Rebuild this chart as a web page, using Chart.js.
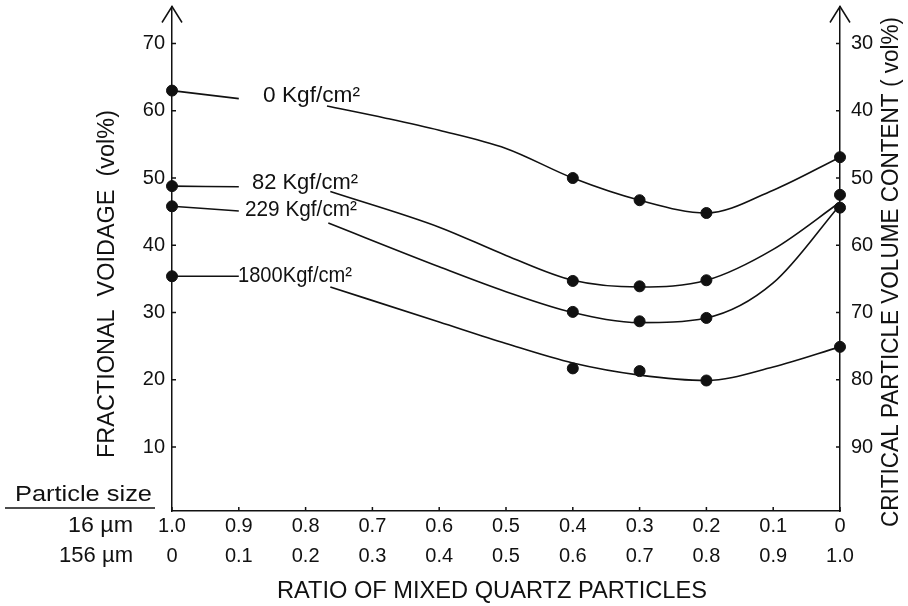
<!DOCTYPE html>
<html>
<head>
<meta charset="utf-8">
<script src="https://cdn.jsdelivr.net/npm/chart.js@4.4.0/dist/chart.umd.min.js"></script>
<style>
body { margin: 0; background: #fff; }
#wrap { width: 908px; height: 606px; }
</style>
</head>
<body>
<div id="wrap"><canvas id="chart"></canvas></div>
<script>
// x = ratio of 16 um particles (axis runs 1.0 -> 0), y = fractional voidage (vol%)
const ratio16Ticks = [1.0, 0.9, 0.8, 0.7, 0.6, 0.5, 0.4, 0.3, 0.2, 0.1, 0];
const label16 = ['1.0', '0.9', '0.8', '0.7', '0.6', '0.5', '0.4', '0.3', '0.2', '0.1', '0'];
const label156 = ['0', '0.1', '0.2', '0.3', '0.4', '0.5', '0.6', '0.7', '0.8', '0.9', '1.0'];
const voidTicks = [10, 20, 30, 40, 50, 60, 70];

// measured points
const dotX = [1.0, 0.4, 0.3, 0.2, 0];
const dots0 = [63.0, 50.0, 46.7, 44.8, 53.1];
const dots82 = [48.8, 34.7, 33.9, 34.8, 47.5];
const dots229 = [45.8, 30.1, 28.7, 29.2, 45.6];
const dots1800 = [35.4, 21.7, 21.3, 19.9, 24.9];

// hand drawn curves (null = gap where the label sits)
const curve0X = [1.0, 0.9, 0.84, 0.768, 0.68, 0.6, 0.5, 0.4, 0.3, 0.2, 0.1, 0];
const curve0Y = [63.0, 61.8, null, 60.7, 58.9, 57.1, 54.4, 50.0, 46.7, 44.8, 48.2, 53.1];
const curve82X = [1.0, 0.9, 0.84, 0.763, 0.6, 0.5, 0.4, 0.3, 0.2, 0.1, 0];
const curve82Y = [48.8, 48.7, null, 48.0, 42.7, 38.5, 34.8, 33.8, 34.8, 39.4, 46.4];
const curve229X = [1.0, 0.9, 0.84, 0.766, 0.6, 0.5, 0.4, 0.3, 0.2, 0.1, 0];
const curve229Y = [45.8, 45.1, null, 43.3, 36.8, 33.1, 30.0, 28.5, 29.2, 34.4, 46.0];
const curve1800X = [1.0, 0.9, 0.84, 0.763, 0.6, 0.5, 0.4, 0.3, 0.2, 0.1, 0];
const curve1800Y = [35.4, 35.4, null, 33.8, 28.6, 25.4, 22.5, 20.7, 19.9, 21.9, 24.9];

const ink = '#111';
const fam = '"Liberation Sans", Arial, sans-serif';

function pts(xs, ys) {
    return xs.map((x, i) => ({ x: x, y: ys[i] }));
}
function curve(xs, ys) {
    return {
        data: pts(xs, ys),
        showLine: true,
        borderColor: ink,
        borderWidth: 1.6,
        pointRadius: 0,
        cubicInterpolationMode: 'monotone',
        spanGaps: false,
        clip: false
    };
}
function dots(ys) {
    return {
        data: pts(dotX, ys),
        pointRadius: 5.5,
        pointBackgroundColor: ink,
        pointBorderColor: ink,
        showLine: false,
        clip: false
    };
}

// draw text squeezed/stretched to a target width
function drawFit(ctx, text, x, y, w, size, align, rot) {
    ctx.save();
    ctx.translate(x, y);
    if (rot) ctx.rotate(rot);
    ctx.font = size + 'px ' + fam;
    const m = ctx.measureText(text).width;
    ctx.scale(w / m, 1);
    ctx.textAlign = align || 'center';
    ctx.textBaseline = 'middle';
    ctx.fillText(text, 0, 0);
    ctx.restore();
}

const decor = {
    id: 'decor',
    afterDraw(chart) {
        const { ctx, chartArea: a, scales: { x, y } } = chart;
        ctx.save();
        ctx.strokeStyle = ink;
        ctx.fillStyle = ink;
        ctx.lineWidth = 1.5;
        // arrow heads
        [a.left, a.right].forEach(px => {
            ctx.beginPath();
            ctx.moveTo(px - 10, a.top + 16);
            ctx.lineTo(px, a.top);
            ctx.lineTo(px + 10, a.top + 16);
            ctx.stroke();
        });
        // inward tick marks
        ctx.beginPath();
        voidTicks.forEach(v => {
            const py = y.getPixelForValue(v);
            ctx.moveTo(a.left, py); ctx.lineTo(a.left + 4, py);
            ctx.moveTo(a.right, py); ctx.lineTo(a.right - 4, py);
        });
        ratio16Ticks.forEach(r => {
            const px = x.getPixelForValue(r);
            ctx.moveTo(px, a.bottom); ctx.lineTo(px, a.bottom - 4);
        });
        ctx.stroke();

        // curve labels
        drawFit(ctx, '0 Kgf/cm²', 263, 96, 97, 22, 'left');
        drawFit(ctx, '82 Kgf/cm²', 252, 183, 106, 22, 'left');
        drawFit(ctx, '229 Kgf/cm²', 245, 210, 112, 22, 'left');
        drawFit(ctx, '1800Kgf/cm²', 238, 276, 114, 22, 'left');

        // particle size legend on the left of the x ticks
        drawFit(ctx, 'Particle size', 15, 495, 137, 22, 'left');
        ctx.beginPath();
        ctx.moveTo(5, 508); ctx.lineTo(155, 508);
        ctx.stroke();
        drawFit(ctx, '16 µm', 133, 526, 65, 22, 'right');
        drawFit(ctx, '156 µm', 133, 556, 74, 22, 'right');

        // axis titles
        drawFit(ctx, 'RATIO OF MIXED QUARTZ PARTICLES', 492, 592, 430, 23, 'center');
        drawFit(ctx, 'FRACTIONAL  VOIDAGE  (vol%)', 108, 284, 348, 23, 'center', -Math.PI / 2);
        drawFit(ctx, 'CRITICAL PARTICLE VOLUME CONTENT ( vol%)', 892, 272, 510, 23, 'center', -Math.PI / 2);
        ctx.restore();
    }
};

const setVoidTicks = s => { s.ticks = voidTicks.map(v => ({ value: v })); };
const noPad = s => { s.paddingTop = 0; s.paddingBottom = 0; s.paddingLeft = 0; s.paddingRight = 0; };

new Chart(document.getElementById('chart'), {
    type: 'scatter',
    data: {
        datasets: [
            curve(curve0X, curve0Y),
            curve(curve82X, curve82Y),
            curve(curve229X, curve229Y),
            curve(curve1800X, curve1800Y),
            dots(dots0),
            dots(dots82),
            dots(dots229),
            dots(dots1800)
        ]
    },
    options: {
        responsive: true,
        maintainAspectRatio: false,
        animation: false,
        layout: { padding: { top: 6, left: 0, right: 0, bottom: 0 } },
        plugins: {
            legend: { display: false },
            tooltip: { enabled: false }
        },
        scales: {
            x: {
                type: 'linear',
                min: 0,
                max: 1,
                reverse: true,
                grid: { display: false, drawTicks: false },
                border: { display: true, color: ink, width: 1.5 },
                afterBuildTicks: s => { s.ticks = ratio16Ticks.map(v => ({ value: v })); },
                afterFit: s => { s.height = 95; noPad(s); },
                ticks: {
                    autoSkip: false,
                    maxRotation: 0,
                    padding: 0,
                    color: ink,
                    font: { family: fam, size: 20, lineHeight: 30 / 20 },
                    callback: v => {
                        const i = Math.round((1 - v) * 10);
                        return [label16[i], label156[i]];
                    }
                }
            },
            y: {
                position: 'left',
                min: 0.5,
                max: 75.5,
                grid: { display: false, drawTicks: false },
                border: { display: true, color: ink, width: 1.5 },
                afterBuildTicks: setVoidTicks,
                afterFit: s => { s.width = 172; noPad(s); },
                ticks: { padding: 7, color: ink, font: { family: fam, size: 20 } }
            },
            y2: {
                position: 'right',
                min: 0.5,
                max: 75.5,
                grid: { display: false, drawTicks: false },
                border: { display: true, color: ink, width: 1.5 },
                afterBuildTicks: setVoidTicks,
                afterFit: s => { s.width = 68; noPad(s); },
                ticks: {
                    padding: 11,
                    color: ink,
                    font: { family: fam, size: 20 },
                    callback: v => String(100 - v)
                }
            }
        }
    },
    plugins: [decor]
});
</script>
</body>
</html>
